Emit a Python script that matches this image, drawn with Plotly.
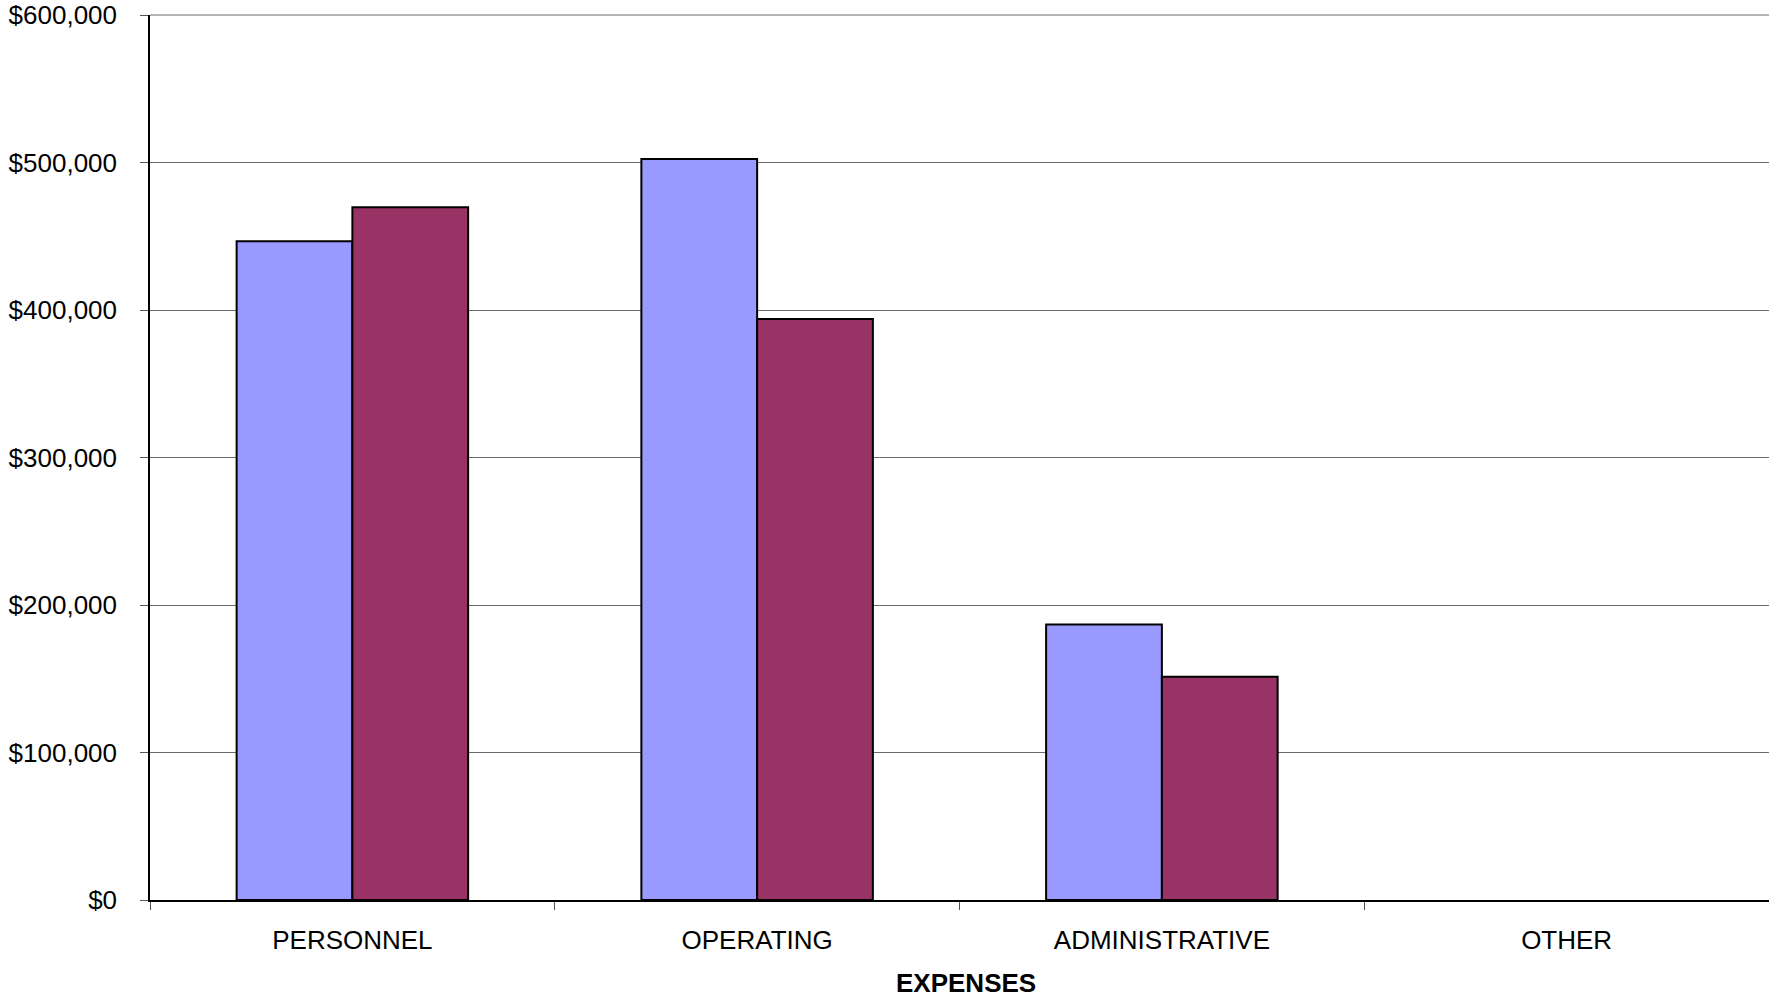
import plotly.graph_objects as go

# Expense categories and the two compared series
categories = ["PERSONNEL", "OPERATING", "ADMINISTRATIVE", "OTHER"]
series_1 = [446600, 502400, 186700, 0]
series_2 = [469600, 393900, 151400, 0]

y_ticks = [0, 100000, 200000, 300000, 400000, 500000, 600000]
y_tick_text = [f"${v:,}" for v in y_ticks]

FONT = "Liberation Sans, Arial, sans-serif"
GRID = "#6b6b6b"


def outline(values):
    # zero-height bars get no outline so they vanish into the axis line
    return dict(color="black", width=[2 if v else 0 for v in values])


fig = go.Figure()
fig.add_trace(go.Bar(name="Series 1", x=categories, y=series_1,
                     marker=dict(color="#9999FF", line=outline(series_1))))
fig.add_trace(go.Bar(name="Series 2", x=categories, y=series_2,
                     marker=dict(color="#993366", line=outline(series_2))))

fig.update_layout(
    width=1769, height=997,
    margin=dict(l=150, r=0, t=12, b=97),
    paper_bgcolor="white", plot_bgcolor="white",
    barmode="group", bargap=0.428, bargroupgap=0,
    showlegend=False,
    font=dict(family=FONT, size=26, color="black"),
    annotations=[dict(
        text="<b>EXPENSES</b>", x=0.5 + 7 / 1619, xref="paper",
        y=-(983 - 900) / 888, yref="paper", yanchor="middle",
        showarrow=False, font=dict(family=FONT, size=26, color="black"),
    )],
    # gridline along the top of the value range (plotly skips the edge one)
    shapes=[dict(type="line", xref="paper", yref="paper",
                 x0=0, x1=1, y0=1, y1=1, layer="below",
                 line=dict(color=GRID, width=1))],
)

fig.update_xaxes(
    type="category", tickson="boundaries",
    ticks="outside", ticklen=8, tickcolor="#555555", tickwidth=1,
    showline=True, linecolor="black", linewidth=1.5,
    showgrid=False, ticklabelstandoff=16,
    tickfont=dict(family=FONT, size=26, color="black"),
)
fig.update_yaxes(
    range=[0, y_ticks[-1]], tickvals=y_ticks, ticktext=y_tick_text,
    ticks="outside", ticklen=8, tickcolor="#555555", tickwidth=1,
    showline=True, linecolor="black", linewidth=1.5,
    showgrid=True, gridcolor=GRID, gridwidth=1,
    zeroline=False, ticklabelstandoff=18, ticklabeloverflow="allow",
    tickfont=dict(family=FONT, size=26, color="black"),
)

fig.write_html("out.html")
